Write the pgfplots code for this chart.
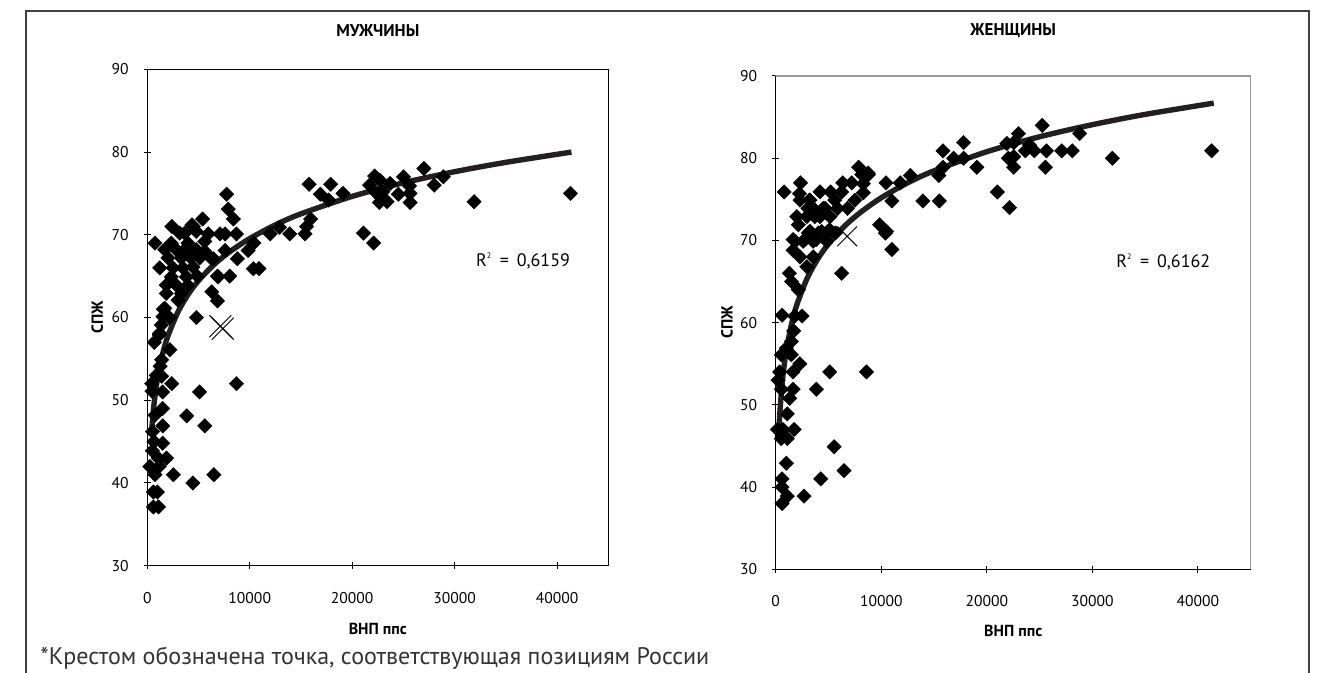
\documentclass[border=0pt]{standalone}
\usepackage{fontspec}
\setmainfont{PT Sans}
\usepackage{pgfplots}
\pgfplotsset{compat=1.18}
\definecolor{trend}{HTML}{231F20}
\definecolor{framegray}{HTML}{404040}

% men: GNP ppp vs life expectancy
\pgfplotstableread{
x y
41300 75
31900 74
27000 78
28000 76
28900 77
25000 77
25600 75.9
25650 75
25650 73.9
24500 74.9
23400 74
23700 76.2
22200 77.1
21700 76
22400 75
22650 73.9
23000 75.2
22700 76.6
21100 70.2
22100 69
19100 75
17900 76.1
16900 74.9
17700 74.2
15800 76.1
15950 71.9
15550 71
15400 70.1
13900 70.1
12900 70.9
12000 70.1
10900 65.9
10350 65.9
10400 69
9850 68.1
8800 67.1
8700 70.1
8400 71.9
7900 73.1
7750 74.9
7600 70.1
7100 70.1
7600 68.1
8050 65
6850 65
6300 63.1
6850 62
4800 60
6450 67.1
5950 70.1
5400 71.9
4500 71
2400 71
750 69
4360 71.2
3160 70.2
3650 70.2
4780 70.4
2340 69
3970 69
5600 69.2
1700 68.2
2830 68.2
3650 68.2
4780 68.2
5600 68
2020 67.2
3320 67.2
4240 67.2
5110 67.2
6190 67.2
1210 66
2510 66
3490 66
4460 66.1
2340 64.9
3810 64.9
4880 65
6900 64.9
1850 63.9
2830 63.9
3970 63.9
1850 62.9
3320 62.9
3000 62.1
1700 61.1
1530 60.1
1370 59.1
1210 58.1
8700 52
5100 51
3850 48.1
5600 46.9
2550 41
4450 40
6500 41
2380 52
2200 56.1
1560 61
2150 60
680 57
1170 57.9
1400 54.9
1250 54.1
880 53
1400 52.9
430 52
450 51.1
1500 51
1500 49
750 48.2
1500 46.9
500 46.2
650 45
1500 44.8
500 43.9
1070 43
1870 43
250 42
1170 42
750 41
590 38.9
980 38.9
590 37.1
1090 37.1
}\menpts

% women
\pgfplotstableread{
x y
41300 80.9
31900 80
28800 83
28100 80.9
27100 80.9
25650 80.9
25250 84
25550 78.9
24500 80.9
23650 80.9
23000 83
22550 81.9
21900 81.8
22050 80
22550 78.9
22550 80.2
22150 74
21000 75.9
24050 81.6
19050 78.9
17800 81.9
16850 80
17800 80
15850 80.9
15850 78.9
15450 77.9
15500 74.8
13950 74.8
12750 77.9
11800 77
10450 77
11000 74.8
9850 71.9
10400 70.9
11000 68.9
6250 66
8800 78
7850 78.9
8150 78
8300 76.9
7200 77
6350 77
8300 75.8
7500 74.9
6800 73.9
5850 73.9
800 75.9
2350 77
2250 75.7
3200 74.9
4200 75.9
5200 75.9
6250 75.9
3550 73.9
4700 73.9
2000 72.9
2950 72.9
4200 72.9
5150 72.9
2150 71.9
3100 70.9
4050 70.9
4850 70.9
5650 70.9
1850 69.9
2600 69.9
3550 69.9
4850 69.9
1650 68.8
2300 68
3550 68
2950 66.8
1300 66
1500 65
2150 64
8750 78.2
10500 71.1
2300 74.9
3250 74.9
5600 74.9
3050 73.9
3700 72.9
4500 73.9
3250 71.1
4350 71.1
5100 71.3
1650 70.1
2750 70.1
3850 70.1
600 60.9
1800 60.8
2500 60.8
1700 59
1480 57.7
1010 56.9
530 56.1
1480 56.1
2280 55
380 54
1640 54
5120 54
8600 54
220 53
3850 51.9
530 51.9
1640 51.9
1330 50.8
1100 48.9
150 47
690 47
1740 47
530 45.9
1100 45.9
5530 44.9
1010 42.9
6480 42
4270 41
600 41
600 40
1100 38.9
2690 38.9
600 38
}\womenpts

\pgfplotsset{
  panel/.style={
    scale only axis,
    xmin=0, xmax=45000, ymin=30, ymax=90,
    xtick={0,10000,20000,30000,40000},
    ytick={30,40,50,60,70,80,90},
    tick pos=left, tick align=center, major tick length=3.5pt,
    tick style={black, line width=0.5pt},
    scaled ticks=false,
    /pgf/number format/set thousands separator={},
    /pgf/number format/assume math mode=true,
    ticklabel style={font=\fontsize{7.8}{9}\selectfont},
    xticklabel style={yshift=-8pt},
    yticklabel style={xshift=-4pt},
    label style={font=\bfseries\fontsize{8}{9}\selectfont},
    title style={font=\bfseries\fontsize{8.5}{10}\selectfont, anchor=center},
    clip=false,
  },
  dots/.style={only marks, mark=square*, mark size=2.55pt,
    mark options={rotate=45, fill=black, draw=black, line width=0.2pt}},
  trendline/.style={no marks, line width=2.7pt, color=trend, smooth},
}
\tikzset{rsq/.style={anchor=west, font=\fontsize{9}{10}\selectfont}}

\begin{document}
\begin{tikzpicture}
\useasboundingbox (0,0) rectangle (659.5pt,336.5pt);
\draw[framegray, line width=0.6pt] (13pt,0) -- (13pt,331pt) -- (654.5pt,331pt) -- (654.5pt,0);

% ---- men
\begin{axis}[panel,
  at={(73.65pt,53.65pt)}, anchor=south west,
  width=230.5pt, height=248.2pt,
  axis line style={black, line width=0.75pt},
  title={МУЖЧИНЫ},
  title style={at={(axis description cs:0.5,1.053)}},
  xlabel={ВНП ппс}, ylabel={СПЖ},
  xlabel style={at={(axis description cs:0.5,-0.128)}, anchor=center},
  ylabel style={at={(axis description cs:-0.1085,0.5)}, anchor=center},
]
\addplot[dots] table[x=x, y=y] {\menpts};
\addplot[trendline] coordinates {
  (420,46.24)(600,48.87)(800,50.98)(1000,52.62)(1500,55.60)(2000,57.72)
  (3000,60.69)(4000,62.81)(5000,64.45)(6500,66.38)(8000,67.90)(10000,69.54)
  (12500,71.19)(15000,72.53)(20000,74.64)(25000,76.28)(30000,77.62)
  (35000,78.75)(41400,79.99)
};
\addplot[only marks, mark=x, mark size=7.75pt, mark options={line width=0.5pt, black}]
  coordinates {(7130,58.95)(7370,58.65)};
\node[rsq] at (axis cs:31400,66.8)
  {R\textsuperscript{\fontsize{4}{4}\selectfont 2}\, =\, 0,6159};
\end{axis}

% ---- women
\begin{axis}[panel,
  at={(387.85pt,51.85pt)}, anchor=south west,
  width=237.5pt, height=246.65pt,
  axis line style={gray!80, line width=0.75pt},
  title={ЖЕНЩИНЫ},
  title style={at={(axis description cs:0.5,1.067)}},
  xlabel={ВНП ппс}, ylabel={СПЖ},
  xlabel style={at={(axis description cs:0.5,-0.125)}, anchor=center},
  ylabel style={at={(axis description cs:-0.1025,0.5)}, anchor=center},
]
\draw[black, line width=0.75pt] (rel axis cs:0,1) -- (rel axis cs:0,0) -- (rel axis cs:1,0);
\addplot[only marks, mark=x, mark size=7pt, mark options={line width=0.5pt, black}]
  coordinates {(6770,70.5)};
\addplot[dots] table[x=x, y=y] {\womenpts};
\addplot[trendline] coordinates {
  (310,47.09)(400,49.15)(600,52.43)(800,54.76)(1000,56.57)(1500,59.84)
  (2000,62.17)(3000,65.45)(4000,67.78)(5000,69.58)(6500,71.71)(8000,73.38)
  (10000,75.19)(12500,77.00)(15000,78.47)(20000,80.79)(25000,82.61)
  (30000,84.08)(35000,85.33)(41500,86.70)
};
\node[rsq] at (axis cs:31600,67.4)
  {R\textsuperscript{\fontsize{4}{4}\selectfont 2}\, =\, 0,6162};
\end{axis}

\node[anchor=base west, inner sep=0, font=\fontsize{12}{14}\selectfont, text=black!80]
  at (20pt,4pt) {*Крестом обозначена точка, соответствующая позициям России};
\end{tikzpicture}
\end{document}
